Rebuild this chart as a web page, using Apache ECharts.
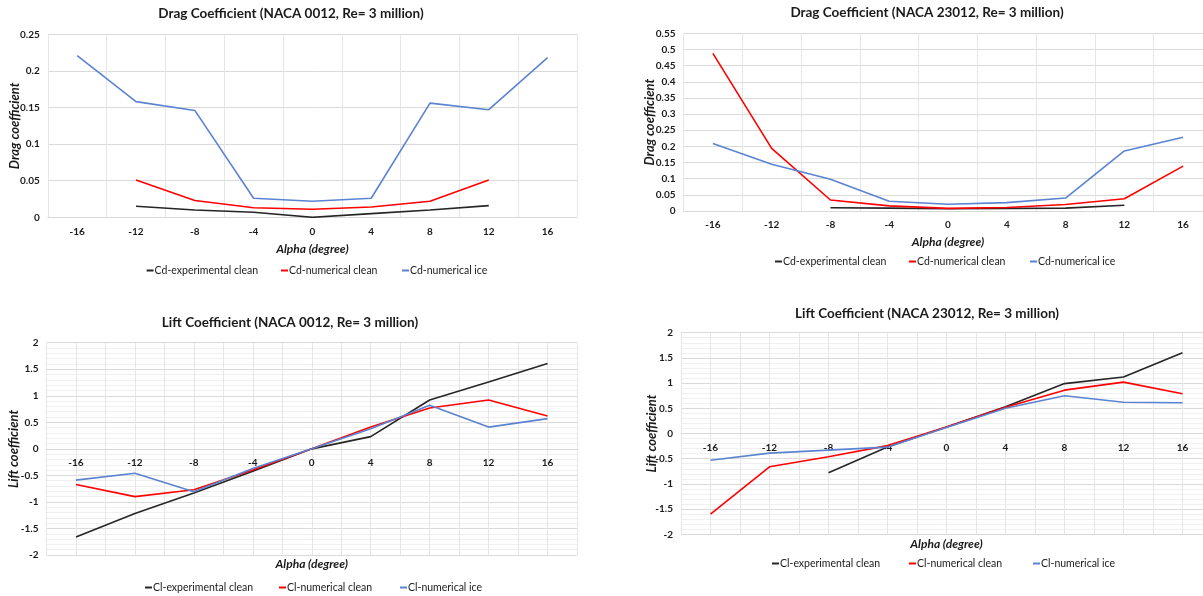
<!DOCTYPE html>
<html><head><meta charset="utf-8">
<script src="https://cdn.jsdelivr.net/npm/echarts@6/dist/echarts.min.js"></script>
<style>html,body{margin:0;padding:0;background:#fff}#c{width:1203px;height:596px}</style>
</head><body><div id="c"></div><script>
// Angle of attack (categories)
const alpha = [-16, -12, -8, -4, 0, 4, 8, 12, 16];
const alphaLabels = ['-16', '-12', '-8', '-4', '0', '4', '8', '12', '16'];

// Drag coefficient, NACA 0012
const cd0012Exp = [null, 0.015, 0.010, 0.007, 0.000, 0.005, 0.010, 0.016, null];
const cd0012Num = [null, 0.051, 0.023, 0.013, 0.011, 0.014, 0.022, 0.051, null];
const cd0012Ice = [0.221, 0.158, 0.146, 0.026, 0.022, 0.026, 0.156, 0.147, 0.218];

// Drag coefficient, NACA 23012
const cd23012Exp = [null, null, 0.010, 0.009, 0.007, 0.008, 0.009, 0.018, null];
const cd23012Num = [0.488, 0.194, 0.034, 0.016, 0.008, 0.011, 0.020, 0.038, 0.139];
const cd23012Ice = [0.209, 0.145, 0.098, 0.030, 0.021, 0.026, 0.040, 0.186, 0.228];

// Lift coefficient, NACA 0012
const cl0012Exp = [-1.66, -1.22, -0.83, -0.42, 0.00, 0.23, 0.92, 1.26, 1.61];
const cl0012Num = [-0.67, -0.90, -0.77, -0.40, 0.00, 0.41, 0.77, 0.92, 0.62];
const cl0012Ice = [-0.59, -0.46, -0.81, -0.37, 0.00, 0.38, 0.82, 0.41, 0.57];

// Lift coefficient, NACA 23012
const cl23012Exp = [null, null, -0.78, -0.27, 0.13, 0.53, 0.99, 1.12, 1.60];
const cl23012Num = [-1.60, -0.66, -0.46, -0.24, 0.13, 0.52, 0.86, 1.02, 0.79];
const cl23012Ice = [-0.53, -0.39, -0.33, -0.27, 0.12, 0.50, 0.75, 0.62, 0.61];

const titles = [
  'Drag Coefficient (NACA 0012, Re= 3 million)',
  'Drag Coefficient (NACA 23012, Re= 3 million)',
  'Lift Coefficient (NACA 0012, Re= 3 million)',
  'Lift Coefficient (NACA 23012, Re= 3 million)'
];
const cdNames = ['Cd-experimental clean', 'Cd-numerical clean', 'Cd-numerical ice'];
const clNames = ['Cl-experimental clean', 'Cl-numerical clean', 'Cl-numerical ice'];

const FONT = "Lato,'Liberation Sans',sans-serif";
const COLORS = ['#262626', '#ff0000', '#5b83d1'];
const TXT = '#1a1a1a';

const chart = echarts.init(document.getElementById('c'), null, {renderer: 'canvas'});

const gridBase = {containLabel: false, outerBoundsMode: 'none'};
const grids = [
  Object.assign({left: 47.8, top: 34.3, width: 529.2, height: 183}, gridBase),
  Object.assign({left: 683.5, top: 33.3, width: 529, height: 177.7}, gridBase),
  Object.assign({left: 46.5, top: 342.7, width: 530.5, height: 212.3}, gridBase),
  Object.assign({left: 681, top: 332.7, width: 531, height: 201.6}, gridBase)
];
const LIFT_MIN = -2, LIFT_MAX = 2;
const titlePos = [[291, 7], [927, 6], [290, 316], [927, 307]];

const title = titles.map((t, i) => ({
  text: t, left: titlePos[i][0], top: titlePos[i][1], textAlign: 'center', padding: 0,
  textStyle: {fontFamily: FONT, fontWeight: 'bold', fontSize: 13.5, color: TXT}
}));

const legendPos = [
  [[146.6, 265], [281, 265], [402, 265]],
  [[775, 256], [909, 256], [1030, 256]],
  [[145, 582], [279, 582], [400, 582]],
  [[772, 558], [909, 558], [1033, 558]]
];
const legend = [];
legendPos.forEach((row, p) => {
  const names = p < 2 ? cdNames : clNames;
  row.forEach((pos, k) => {
    legend.push({
      data: [names[k]], left: pos[0], top: pos[1], padding: 0,
      icon: 'rect', itemWidth: 7, itemHeight: 2, selectedMode: false,
      textStyle: {fontFamily: FONT, fontSize: 10.5, color: TXT, padding: [0, 0, 0, -4]}
    });
  });
});

const labelStyle = {fontFamily: FONT, fontWeight: 'bold', fontSize: 10, color: TXT};
const xNameStyle = {fontFamily: FONT, fontWeight: 'bold', fontStyle: 'italic', fontSize: 12, color: TXT};
const yNameStyle = {fontFamily: FONT, fontWeight: 'bold', fontStyle: 'italic', fontSize: 13, color: TXT};
const axisLine = {show: true, onZero: false, lineStyle: {color: '#d9d9d9', width: 1}};

const catX = (gi) => ({
  type: 'category', gridIndex: gi, data: alphaLabels, boundaryGap: true,
  axisTick: {show: false}, axisLine: axisLine,
  axisLabel: Object.assign({margin: 9, interval: 0}, labelStyle),
  splitLine: {show: true, lineStyle: {color: '#e6e6e6'}},
  name: 'Alpha (degree)', nameLocation: 'middle', nameGap: 25.5, nameMoveOverlap: false,
  nameTextStyle: xNameStyle
});
// value x-axis placed on the y=0 line of its grid (Excel "horizontal axis crosses at 0")
const valX = (gi, gap) => ({
  type: 'value', gridIndex: gi, min: -18, max: 18, interval: 2,
  position: 'bottom',
  offset: -grids[gi].height * (0 - LIFT_MIN) / (LIFT_MAX - LIFT_MIN),
  axisTick: {show: false}, axisLine: axisLine,
  axisLabel: Object.assign({margin: 9, formatter: v => (v % 4 === 0 ? String(v) : '')}, labelStyle),
  splitLine: {show: true, lineStyle: {color: '#e6e6e6'}},
  name: 'Alpha (degree)', nameLocation: 'middle', nameGap: gap, nameMoveOverlap: false,
  nameTextStyle: xNameStyle
});
const xAxis = [catX(0), catX(1), valX(2, 109.5), valX(3, 104.5)];

const yBase = (gi, min, max, interval, name, gap, minor) => ({
  type: 'value', gridIndex: gi, min: min, max: max, interval: interval,
  axisLine: {show: false, onZero: false}, axisTick: {show: false},
  axisLabel: Object.assign({margin: 8}, labelStyle),
  splitLine: {show: true, lineStyle: {color: '#dadada'}},
  minorTick: {show: false, splitNumber: 5},
  minorSplitLine: {show: !!minor, lineStyle: {color: '#efefef'}},
  name: name, nameLocation: 'middle', nameGap: gap, nameMoveOverlap: false,
  nameTextStyle: yNameStyle
});
const yAxis = [
  yBase(0, 0, 0.25, 0.05, 'Drag coefficient', 26, false),
  yBase(1, 0, 0.55, 0.05, 'Drag coefficient', 27, false),
  yBase(2, LIFT_MIN, LIFT_MAX, 0.5, 'Lift coefficient', 26.5, true),
  yBase(3, LIFT_MIN, LIFT_MAX, 0.5, 'Lift coefficient', 22.5, true)
];

const mk = (name, data, idx, color, paired) => ({
  name: name, type: 'line', xAxisIndex: idx, yAxisIndex: idx,
  data: paired ? alpha.map((a, i) => [a, data[i] === null ? '-' : data[i]]) : data.map(v => (v === null ? '-' : v)),
  showSymbol: false, symbol: 'none', connectNulls: false, animation: false,
  lineStyle: {width: 1.6, color: color}, itemStyle: {color: color}
});

const series = [
  mk(cdNames[0], cd0012Exp, 0, COLORS[0], false),
  mk(cdNames[1], cd0012Num, 0, COLORS[1], false),
  mk(cdNames[2], cd0012Ice, 0, COLORS[2], false),
  mk(cdNames[0], cd23012Exp, 1, COLORS[0], false),
  mk(cdNames[1], cd23012Num, 1, COLORS[1], false),
  mk(cdNames[2], cd23012Ice, 1, COLORS[2], false),
  mk(clNames[0], cl0012Exp, 2, COLORS[0], true),
  mk(clNames[1], cl0012Num, 2, COLORS[1], true),
  mk(clNames[2], cl0012Ice, 2, COLORS[2], true),
  mk(clNames[0], cl23012Exp, 3, COLORS[0], true),
  mk(clNames[1], cl23012Num, 3, COLORS[1], true),
  mk(clNames[2], cl23012Ice, 3, COLORS[2], true)
];

chart.setOption({
  backgroundColor: '#ffffff',
  animation: false,
  title: title, legend: legend, grid: grids, xAxis: xAxis, yAxis: yAxis, series: series
});
</script></body></html>
